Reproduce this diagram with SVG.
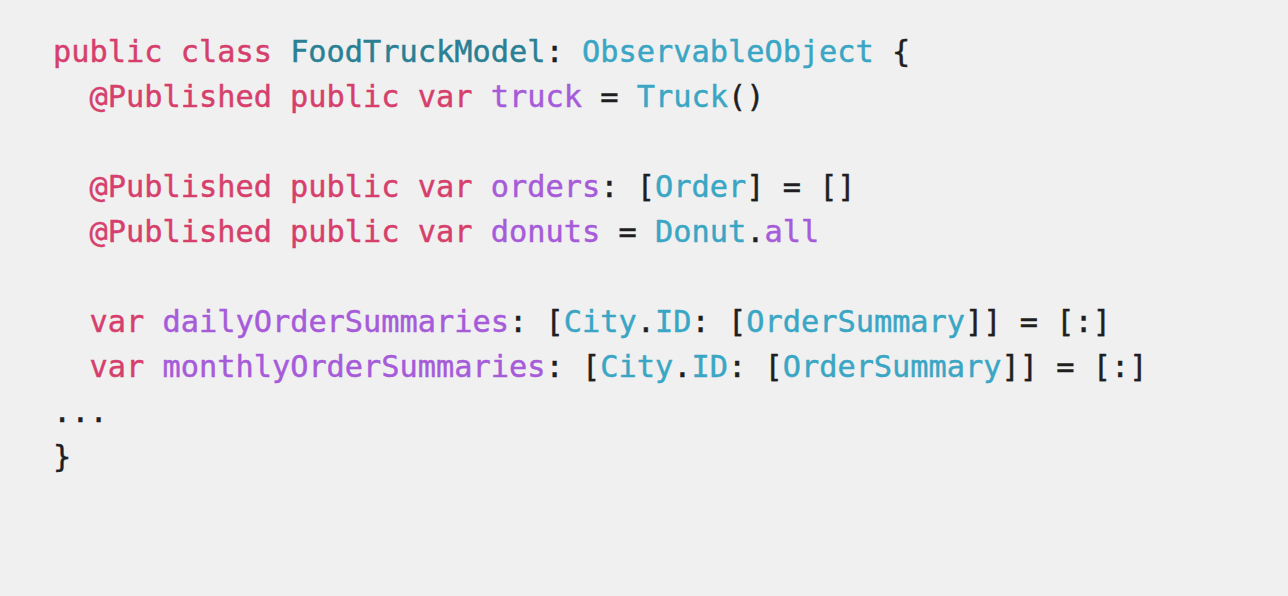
<svg xmlns="http://www.w3.org/2000/svg" width="1288" height="596" viewBox="0 0 1288 596">
<style>
text{font-family:"DejaVu Sans Mono","Liberation Mono",monospace;font-size:30.3px;fill:#1f1f21;stroke:#1f1f21;stroke-width:0.45px;white-space:pre}
.k{fill:#d63f6c;stroke:#d63f6c}
.c{fill:#2a7f93;stroke:#2a7f93}
.t{fill:#3aa6c4;stroke:#3aa6c4}
.v{fill:#a65bd9;stroke:#a65bd9}
.p{fill:#1f1f21;stroke:#1f1f21}
</style>
<rect width="1288" height="596" fill="#f0f0f1"/>
<g id="code" xml:space="preserve">
<text x="53" y="62"><tspan class="k">public class </tspan><tspan class="c">FoodTruckModel</tspan><tspan class="p">: </tspan><tspan class="t">ObservableObject</tspan><tspan class="p"> {</tspan></text>
<text x="53" y="107"><tspan class="k">  @Published public var </tspan><tspan class="v">truck</tspan><tspan class="p"> = </tspan><tspan class="t">Truck</tspan><tspan class="p">()</tspan></text>
<text x="53" y="197"><tspan class="k">  @Published public var </tspan><tspan class="v">orders</tspan><tspan class="p">: [</tspan><tspan class="t">Order</tspan><tspan class="p">] = []</tspan></text>
<text x="53" y="242"><tspan class="k">  @Published public var </tspan><tspan class="v">donuts</tspan><tspan class="p"> = </tspan><tspan class="t">Donut</tspan><tspan class="p">.</tspan><tspan class="v">all</tspan></text>
<text x="53" y="332"><tspan class="k">  var </tspan><tspan class="v">dailyOrderSummaries</tspan><tspan class="p">: [</tspan><tspan class="t">City</tspan><tspan class="p">.</tspan><tspan class="t">ID</tspan><tspan class="p">: [</tspan><tspan class="t">OrderSummary</tspan><tspan class="p">]] = [:]</tspan></text>
<text x="53" y="377"><tspan class="k">  var </tspan><tspan class="v">monthlyOrderSummaries</tspan><tspan class="p">: [</tspan><tspan class="t">City</tspan><tspan class="p">.</tspan><tspan class="t">ID</tspan><tspan class="p">: [</tspan><tspan class="t">OrderSummary</tspan><tspan class="p">]] = [:]</tspan></text>
<text x="53" y="422" class="p">...</text>
<text x="53" y="467" class="p">}</text>
</g>
</svg>
